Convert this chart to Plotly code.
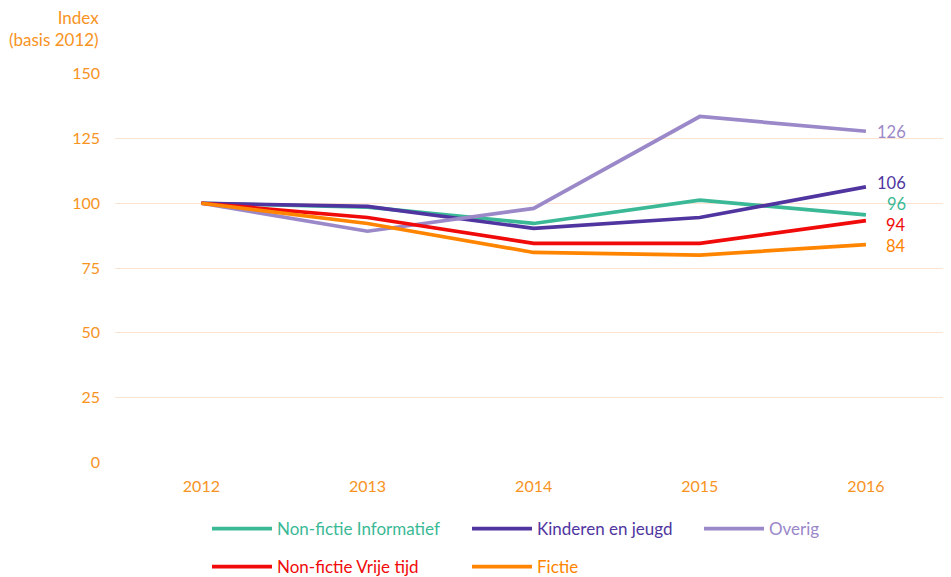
import plotly.graph_objects as go

years = ["2012", "2013", "2014", "2015", "2016"]
series_names = ["Non-fictie Informatief", "Kinderen en jeugd", "Overig",
                "Non-fictie Vrije tijd", "Fictie"]
nf_informatief = [100, 98.5, 92.2, 101.2, 95.5]
kinderen = [100, 98.8, 90.3, 94.5, 106.3]
overig = [100, 89.2, 98, 133.5, 127.8]
nf_vrije_tijd = [100, 94.5, 84.5, 84.5, 93.3]
fictie = [100, 92.2, 81, 80, 84]
end_labels = ["96", "106", "126", "94", "84"]
y_ticks = [0, 25, 50, 75, 100, 125, 150]

values = [nf_informatief, kinderen, overig, nf_vrije_tijd, fictie]
colors = ["#3BB996", "#5035A0", "#9A88C9", "#F00A0A", "#FF8400"]
label_shift = [11, 4, -1, -4, -1]

# page body has an 8px margin, so figure is sized to fit the window
W, H = 943, 569
legend_pos = [(199, 521), (459, 521), (691, 521), (199, 559), (459, 559)]

AX = "#F7931E"
FONT = "Lato"
FS = 17

fig = go.Figure()
legend_layout = {}
for i, (name, vals, col, (lx, ly)) in enumerate(zip(series_names, values, colors, legend_pos)):
    lid = "legend" if i == 0 else f"legend{i + 1}"
    fig.add_trace(go.Scatter(
        x=years, y=vals, mode="lines", line=dict(color=col, width=3.7),
        name=f'<span style="color:{col}">{name}</span>', legend=lid,
    ))
    legend_layout[lid] = dict(orientation="h", xref="container", yref="container",
                              x=lx / W, y=1 - ly / H, xanchor="left", yanchor="middle",
                              itemwidth=60, font=dict(size=FS, family=FONT),
                              bgcolor="rgba(0,0,0,0)")

last = len(years) - 1
for vals, col, lab, ys in zip(values, colors, end_labels, label_shift):
    fig.add_annotation(x=last, y=vals[-1], text=lab, showarrow=False,
                       xanchor="right", xshift=42, yshift=ys,
                       font=dict(color=col, size=16.5, family=FONT))

fig.add_annotation(xref="paper", yref="paper", x=-0.0165, y=1.0, yshift=21,
                   xanchor="right", yanchor="bottom", align="right",
                   text="Index<br>(basis 2012)", showarrow=False,
                   font=dict(color=AX, size=FS, family=FONT))

fig.update_layout(
    width=W, height=H,
    margin=dict(l=107, r=2, t=65, b=114, autoexpand=False),
    plot_bgcolor="white", paper_bgcolor="white",
    font=dict(family=FONT, size=FS, color=AX),
    xaxis=dict(type="category", range=[-0.52, 4.5], showgrid=False,
               zeroline=False, showline=False, ticks="",
               tickfont=dict(color=AX, size=16, family=FONT), ticklabelstandoff=12),
    yaxis=dict(range=[-0.3, 150.3], tickvals=y_ticks, gridcolor="#FDE4D2",
               gridwidth=1, zeroline=False, showline=False, ticks="",
               tickfont=dict(color=AX, size=16, family=FONT), ticklabelstandoff=14),
    showlegend=True,
    **legend_layout,
)

fig.write_html("out.html")
